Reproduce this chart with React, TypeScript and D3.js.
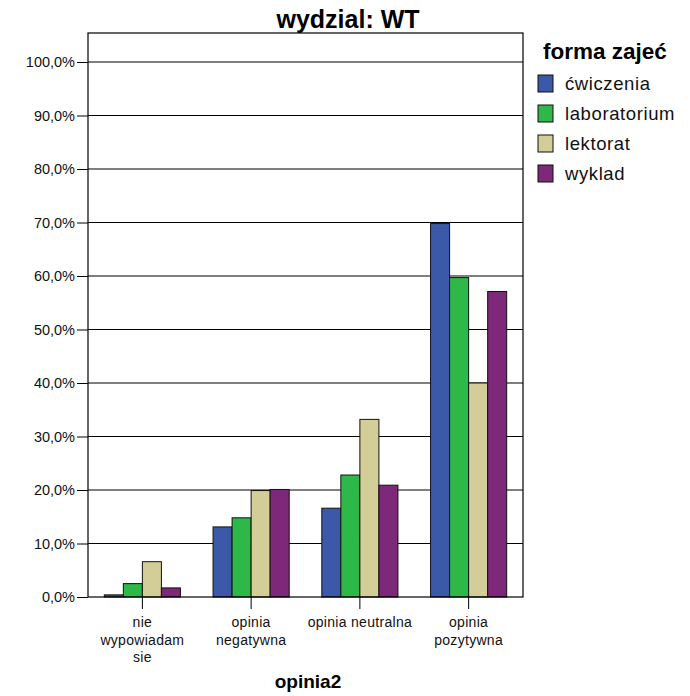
import { useRef, useEffect } from 'react'
import * as d3 from 'd3'

const categories = ['nie wypowiadam sie', 'opinia negatywna', 'opinia neutralna', 'opinia pozytywna']
const categoryLines = [['nie', 'wypowiadam', 'sie'], ['opinia', 'negatywna'], ['opinia neutralna'], ['opinia', 'pozytywna']]
const seriesNames = ['ćwiczenia', 'laboratorium', 'lektorat', 'wyklad']
const seriesColors = ['#3c58a9', '#2fb84a', '#d3ce97', '#7e2879']
const cwiczenia = [0.4, 13.1, 16.6, 69.8]
const laboratorium = [2.5, 14.8, 22.8, 59.7]
const lektorat = [6.6, 19.9, 33.2, 40.0]
const wyklad = [1.7, 20.1, 20.9, 57.1]
const yTicks = [0, 10, 20, 30, 40, 50, 60, 70, 80, 90, 100]

const FONT = '"Liberation Sans", Arial, sans-serif'
const NARROW = '"Liberation Sans Narrow", "Liberation Sans", Arial, sans-serif'

const App = () => {
  const svgRef = useRef<SVGSVGElement>(null)

  useEffect(() => {
    if (!svgRef.current) return
    const width = 690
    const height = 696
    d3.select(svgRef.current).selectAll('*').remove()

    const svg = d3.select(svgRef.current).attr('width', width).attr('height', height)

    const plot = { left: 88, right: 523, top: 33, bottom: 597 }

    const xScale = d3.scaleBand<string>()
      .domain(categories)
      .range([plot.left, plot.right])
      .paddingInner(0.3)
      .paddingOuter(0.15)

    const xSub = d3.scaleBand<string>()
      .domain(seriesNames)
      .range([0, xScale.bandwidth()])

    const yScale = d3.scaleLinear()
      .domain([0, 100])
      .range([plot.bottom, 62])

    const series = [cwiczenia, laboratorium, lektorat, wyklad]

    // grid lines
    svg.append('g')
      .selectAll('line')
      .data(yTicks.filter(d => d > 0))
      .join('line')
      .attr('x1', plot.left)
      .attr('x2', plot.right)
      .attr('y1', d => yScale(d))
      .attr('y2', d => yScale(d))
      .attr('stroke', '#000')
      .attr('stroke-width', 1.2)

    // bars
    seriesNames.forEach((name, si) => {
      svg.append('g')
        .selectAll('rect')
        .data(series[si])
        .join('rect')
        .attr('x', (_, i) => (xScale(categories[i]) || 0) + (xSub(name) || 0))
        .attr('y', d => yScale(d))
        .attr('width', xSub.bandwidth())
        .attr('height', d => plot.bottom - yScale(d))
        .attr('fill', seriesColors[si])
        .attr('stroke', '#111')
        .attr('stroke-width', 1)
    })

    // frame
    svg.append('rect')
      .attr('x', plot.left)
      .attr('y', plot.top)
      .attr('width', plot.right - plot.left)
      .attr('height', plot.bottom - plot.top)
      .attr('fill', 'none')
      .attr('stroke', '#000')
      .attr('stroke-width', 1.2)

    // y axis
    const yAxis = svg.append('g')
      .attr('transform', `translate(${plot.left},0)`)
      .call(d3.axisLeft(yScale).tickValues(yTicks).tickSize(11).tickPadding(2)
        .tickFormat(d => `${(d as number).toFixed(1).replace('.', ',')}%`))
    yAxis.select('.domain').remove()
    yAxis.selectAll('text').attr('font-family', FONT).attr('font-size', 14.5).attr('fill', '#111')
    yAxis.selectAll('line').attr('stroke', '#000')

    // x axis
    const xAxis = svg.append('g')
      .attr('transform', `translate(0,${plot.bottom})`)
      .call(d3.axisBottom(xScale).tickSize(12).tickFormat(() => ''))
    xAxis.select('.domain').remove()
    xAxis.selectAll('line').attr('stroke', '#000')

    categories.forEach((c, i) => {
      const cx = (xScale(c) || 0) + xScale.bandwidth() / 2
      const t = svg.append('text')
        .attr('x', cx)
        .attr('y', 627)
        .attr('text-anchor', 'middle')
        .attr('font-family', FONT)
        .attr('font-size', 14)
        .attr('letter-spacing', 0.3)
        .attr('fill', '#111')
      categoryLines[i].forEach((line, li) => {
        t.append('tspan')
          .attr('x', cx)
          .attr('dy', li === 0 ? 0 : 17.5)
          .text(line)
      })
    })

    // axis title
    svg.append('text')
      .attr('x', 308)
      .attr('y', 688)
      .attr('text-anchor', 'middle')
      .attr('font-family', FONT)
      .attr('font-weight', 'bold')
      .attr('font-size', 19)
      .text('opinia2')

    // chart title
    svg.append('text')
      .attr('x', 348)
      .attr('y', 28)
      .attr('text-anchor', 'middle')
      .attr('font-family', NARROW)
      .attr('font-weight', 'bold')
      .attr('font-size', 25)
      .text('wydzial: WT')

    // legend
    const legend = svg.append('g').attr('transform', 'translate(538,0)')
    legend.append('text')
      .attr('x', 5)
      .attr('y', 59)
      .attr('font-family', NARROW)
      .attr('font-weight', 'bold')
      .attr('font-size', 22.5)
      .text('forma zajeć')

    seriesNames.forEach((name, i) => {
      legend.append('rect')
        .attr('x', 0)
        .attr('y', 75 + i * 30)
        .attr('width', 15)
        .attr('height', 17)
        .attr('fill', seriesColors[i])
        .attr('stroke', '#111')
        .attr('stroke-width', 1)
      legend.append('text')
        .attr('x', 27)
        .attr('y', 90 + i * 30)
        .attr('font-family', FONT)
        .attr('font-size', 18.5)
        .attr('letter-spacing', 0.6)
        .attr('fill', '#111')
        .text(name)
    })
  }, [])

  return (
    <div style={{ position: 'absolute', left: 0, top: 0, background: '#fff' }}>
      <svg ref={svgRef} style={{ display: 'block' }} />
    </div>
  )
}

export default App
